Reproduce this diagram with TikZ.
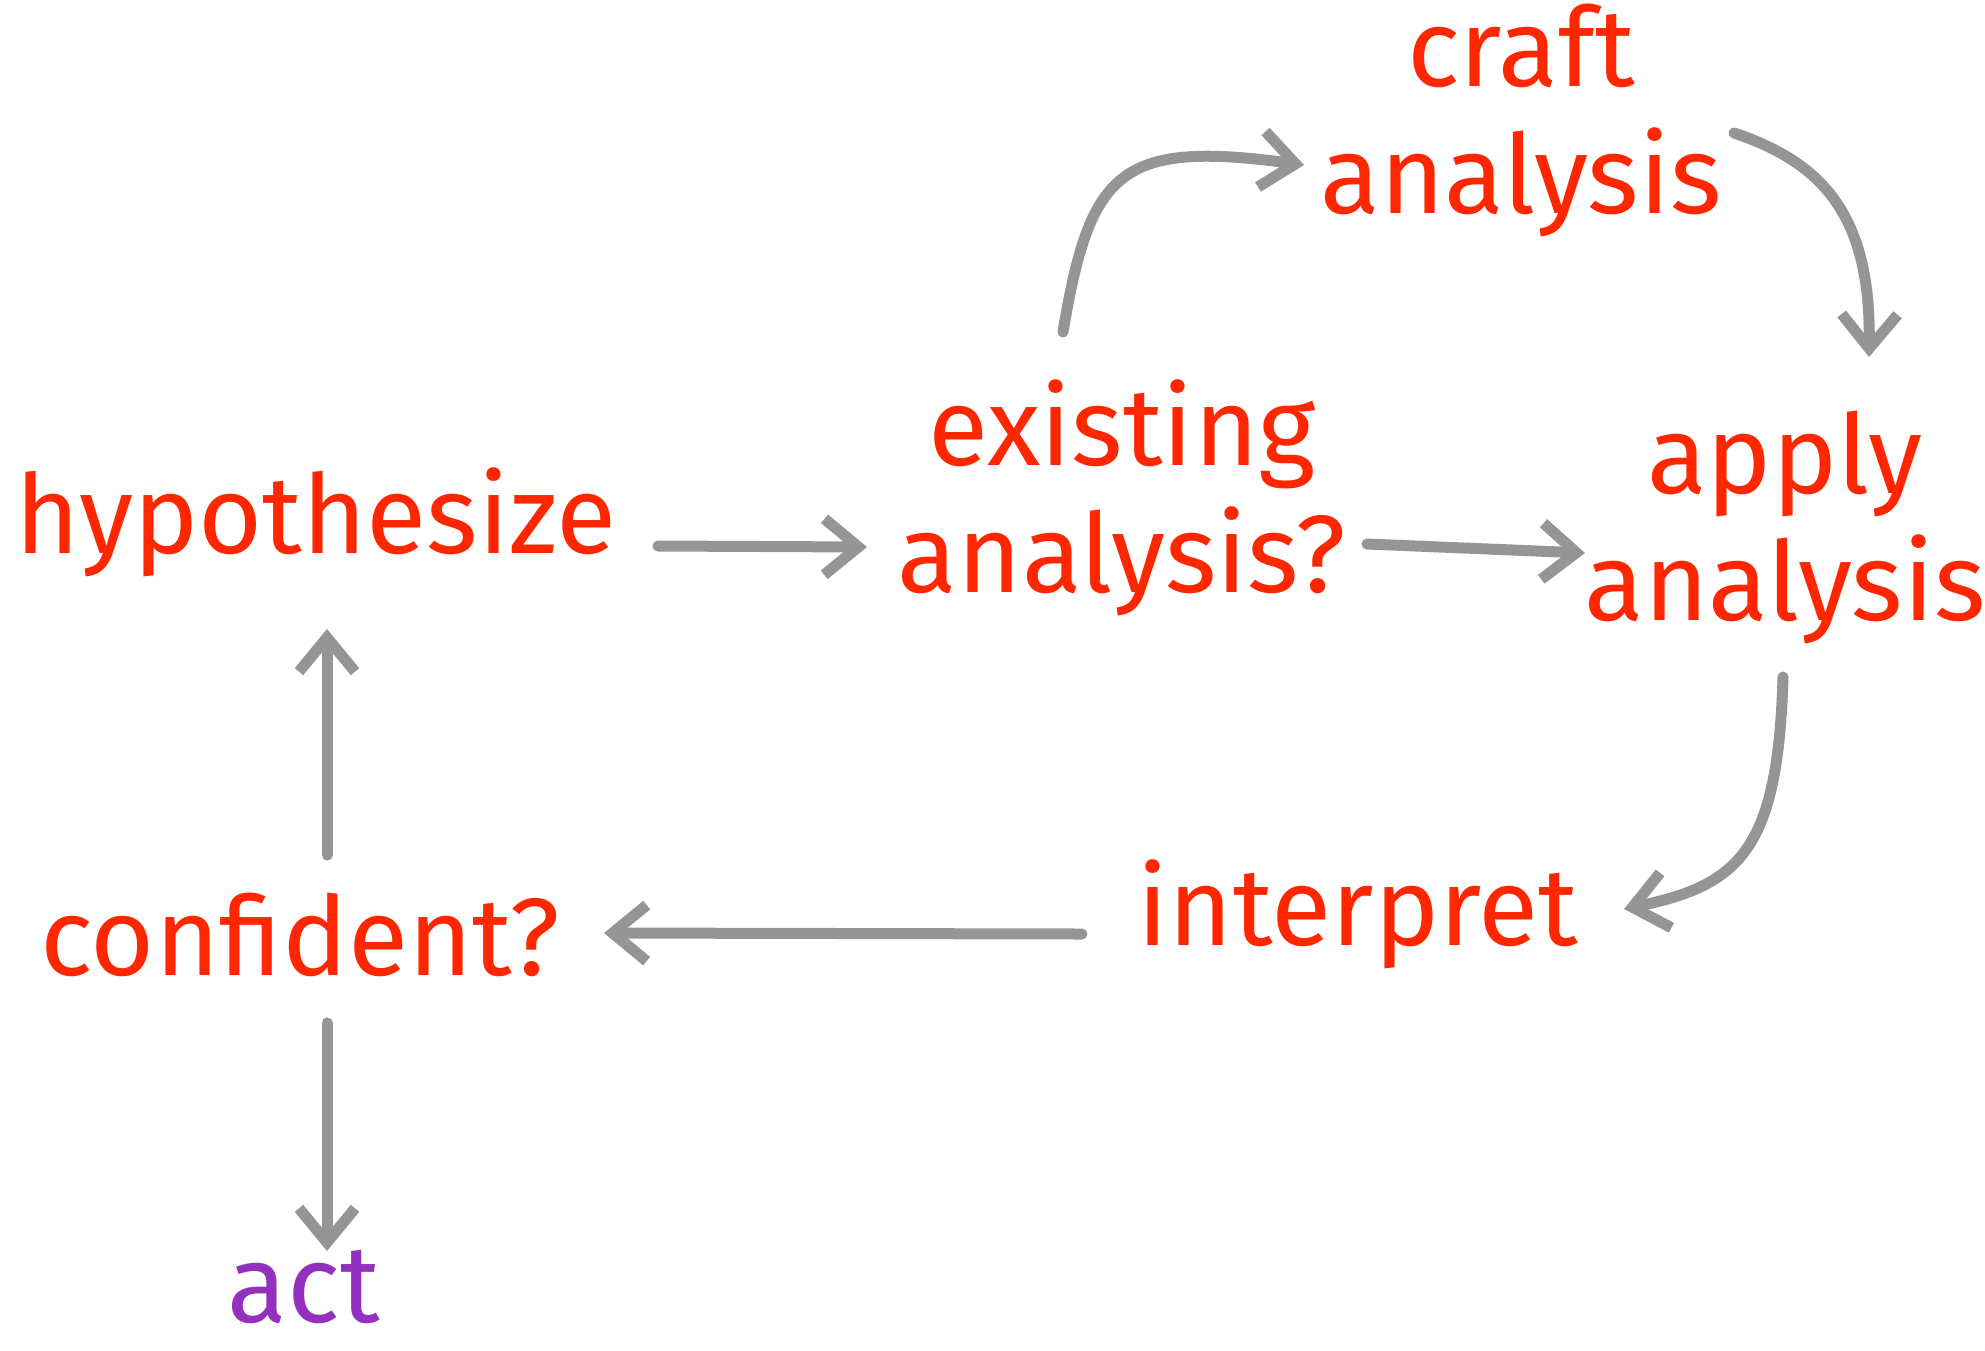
\documentclass[tikz,border=0pt]{standalone}
\usepackage{fontspec}
\setmainfont{Fira Sans}
\usetikzlibrary{arrows.meta}
\definecolor{inkred}{HTML}{FF2600}
\definecolor{inkpurple}{HTML}{9430BE}
\definecolor{pencil}{HTML}{959595}

\begin{document}
\begin{tikzpicture}[x=1pt, y=-1pt,
  word/.style={anchor=base, inner sep=0pt, align=center, text=inkred,
    font=\fontsize{110}{127}\selectfont},
  flow/.style={pencil, line width=11pt, line cap=round, line join=round,
    -{Straight Barb[length=34pt,width=56pt]}}]
\useasboundingbox (0,0) rectangle (1985,1350);

\node[word] (hyp) at (316,553) {hypothesize};
\node[word] (exist) at (1122,592) {existing\\analysis?};
\node[word] (craft) at (1521,213) {craft\\analysis};
\node[word] (apply) at (1785,620) {apply\\analysis};
\node[word] (interp) at (1358,945) {interpret};
\node[word] (conf) at (300,975) {confident?};
\node[word, text=inkpurple] (act) at (304,1322) {act};

\draw[flow] ([shift={(342,-7)}]hyp.base) -- ([shift={(-255,-45)}]exist.base);
\draw[flow] ([shift={(245,-48)}]exist.base) -- ([shift={(-200,-67)}]apply.base);
\draw[flow] ([shift={(-59,-260)}]exist.base) .. controls +(27,-162) and +(-184,-25) .. ([shift={(-217,-48)}]craft.base);
\draw[flow] ([shift={(213,-80)}]craft.base) .. controls +(90,30) and +(2,-140) .. ([shift={(84,-263)}]apply.base);
\draw[flow] ([shift={(-2,57)}]apply.base) .. controls +(-5,173) and +(116,-24) .. ([shift={(266,-36)}]interp.base);
\draw[flow] ([shift={(-276,-11)}]interp.base) -- ([shift={(304,-42)}]conf.base);
\draw[flow] ([shift={(27,-120)}]conf.base) -- ([shift={(11,76)}]hyp.base);
\draw[flow] ([shift={(27,48)}]conf.base) -- ([shift={(23,-71)}]act.base);
\end{tikzpicture}
\end{document}
